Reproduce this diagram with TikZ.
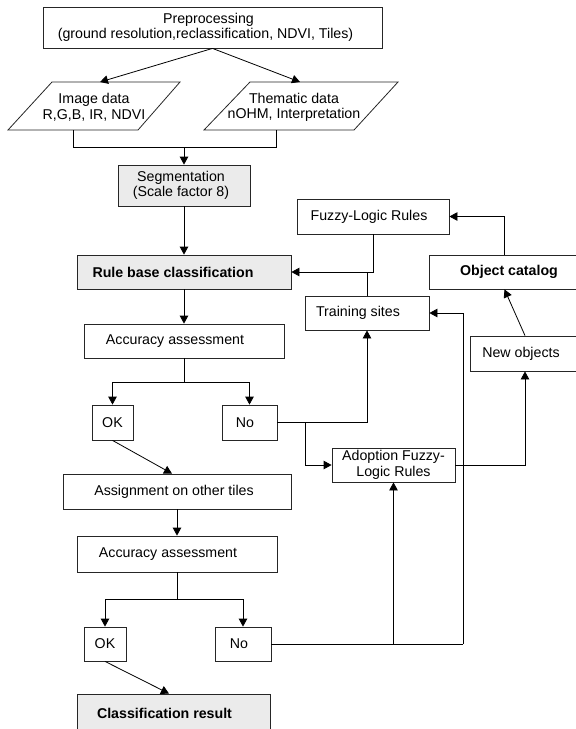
\documentclass[tikz,border=0pt]{standalone}
\usepackage{fontspec}
\setmainfont{Liberation Sans}
\usetikzlibrary{arrows.meta,calc}
\begin{document}
\begin{tikzpicture}[x=1pt,y=-1pt,
  font=\fontsize{14.2}{15.5}\selectfont,
  box/.style={draw=black!85, line width=0.8pt, inner sep=0pt, align=center},
  gbox/.style={box, fill=black!8},
  txt/.style={inner sep=0pt, align=center},
  pline/.style={draw=black!85, line width=0.8pt},
  conn/.style={draw=black, line width=0.8pt},
  arr/.style={conn, -{Triangle[length=8pt,width=8.5pt]}},
]
\useasboundingbox (0,0) rectangle (576,729);
\clip (0,0) rectangle (576,729);

% top part
\node[box, minimum width=339pt, minimum height=41pt] (pre) at (212.5,27.5)
  {Preprocessing\hspace*{8pt}\\(ground resolution,reclassification, NDVI, Tiles)\hspace*{14pt}};

\draw[pline] (52,82) -- (180,82) -- (138,130) -- (8,130) -- cycle;
\node[txt] (img) at (94,107.5) {Image data\\R,G,B, IR, NDVI};
\coordinate (imgtop) at (100,82);
\coordinate (imgbot) at (73,130);

\draw[pline] (250,82) -- (398,82) -- (354,130) -- (204,130) -- cycle;
\node[txt] (thm) at (294,107.5) {Thematic data\\nOHM, Interpretation};
\coordinate (thmtop) at (300,82);
\coordinate (thmbot) at (276,130);
\coordinate (join1) at (184,147);

\node[gbox, minimum width=132pt, minimum height=41pt] (seg) at (184,185.5)
  {Segmentation\hspace*{6pt}\\(Scale factor 8)\hspace*{6pt}};
\node[gbox, minimum width=214pt, minimum height=34pt, font=\fontsize{14.2}{15.5}\selectfont\bfseries] (rule) at (184,272)
  {Rule base classification\hspace*{22pt}};
\node[box, minimum width=200pt, minimum height=34pt] (acc1) at (184,341)
  {Accuracy assessment\hspace*{18pt}};
\node[box, minimum width=41pt, minimum height=35pt] (ok1) at (112.5,422.5) {OK};
\node[box, minimum width=55pt, minimum height=35pt] (no1) at (249.5,422.5) {No\hspace*{9pt}};
\node[box, minimum width=228pt, minimum height=35pt] (assign) at (177,491.5)
  {Assignment on other tiles\hspace*{6pt}};
\node[box, minimum width=200pt, minimum height=36pt] (acc2) at (177,554)
  {Accuracy assessment\hspace*{18pt}};
\node[box, minimum width=42pt, minimum height=34pt] (ok2) at (105,644) {OK};
\node[box, minimum width=56pt, minimum height=34pt] (no2) at (243,644) {No\hspace*{8pt}};
\node[gbox, minimum width=193pt, minimum height=38pt, font=\fontsize{14.2}{15.5}\selectfont\bfseries] (class) at (173.5,713)
  {Classification result\hspace*{18pt}};

% right part
\node[box, minimum width=152pt, minimum height=35pt] (fuzzy) at (373,216.5)
  {Fuzzy-Logic Rules\hspace*{8pt}};
\node[box, minimum width=124pt, minimum height=34pt] (train) at (367,313)
  {Training sites\hspace*{18pt}};
\node[box, minimum width=151pt, minimum height=34pt, font=\fontsize{14.2}{15.5}\selectfont\bfseries] (objcat) at (504.5,272)
  {\hspace*{9pt}Object catalog};
\node[box, minimum width=110pt, minimum height=35pt] (newobj) at (525,353.5)
  {New objects\hspace*{8pt}};
\node[box, minimum width=123pt, minimum height=34pt] (adopt) at (393.5,465)
  {Adoption Fuzzy-\\Logic Rules};

% connectors
\draw[arr] (pre.south) -- (imgtop);
\draw[arr] (pre.south) -- (thmtop);
\draw[conn] (imgbot) -- (imgbot |- join1) -- (thmbot |- join1) -- (thmbot);
\draw[arr] (join1) -- (seg.north);
\draw[arr] (seg.south) -- (rule.north);
\draw[arr] (rule.south) -- (acc1.north);

\coordinate (s1) at (184,382);
\draw[conn] (acc1.south) -- (s1);
\draw[arr] (s1) -| (ok1.north);
\draw[arr] (s1) -| (no1.north);
\draw[arr] (no1.east) -| (train.south);
\coordinate (b1) at (305,422.5);
\draw[arr] (b1) |- (adopt.west);
\draw[arr] (adopt.east) -| (newobj.south);
\draw[arr] (newobj.north) -- (objcat.south);
\draw[arr] (objcat.north) |- (fuzzy.east);
\draw[arr] (fuzzy.south) |- (rule.east);
\draw[conn] (train.north) -- (train.north |- rule.east);

\draw[arr] (ok1.south) -- ($(assign.north)+(-5,0)$);
\draw[arr] (assign.south) -- (acc2.north);
\coordinate (s2) at (177,599);
\draw[conn] (acc2.south) -- (s2);
\draw[arr] (s2) -| (ok2.north);
\draw[arr] (s2) -| (no2.north);
\coordinate (c2) at (463,644);
\draw[conn] (no2.east) -- (c2);
\draw[arr] (c2) |- (train.east);
\draw[arr] (adopt.south |- no2.east) -- (adopt.south);
\draw[arr] (ok2.south) -- ($(class.north)+(-4.5,0)$);
\end{tikzpicture}
\end{document}
